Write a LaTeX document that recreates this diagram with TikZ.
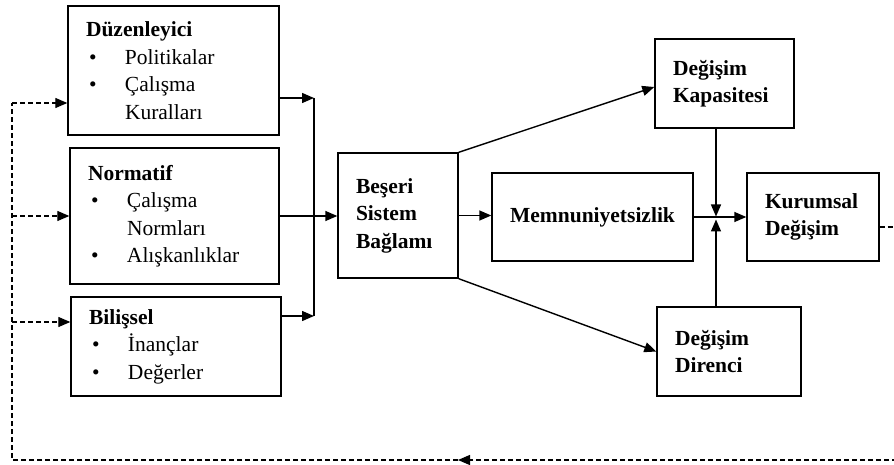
\documentclass[tikz,border=0pt]{standalone}
\usepackage{fontspec}
\setmainfont{Liberation Serif}
\usetikzlibrary{arrows.meta}
% bullet item and continuation indent inside the left-hand boxes
\newcommand{\blt}{\makebox[39pt][l]{\hspace{3pt}\textbullet}}
\newcommand{\cont}{\hspace*{39pt}}
\begin{document}
\begin{tikzpicture}[x=1pt,y=-1pt,
  box/.style={draw, line width=1.4pt, fill=white, inner xsep=18pt, inner ysep=0pt,
              align=left, font=\fontsize{21.5}{27.5}\selectfont},
  link/.style={line width=1.4pt, -{Triangle[length=12pt,width=10pt]}},
  plain/.style={line width=1.4pt},
  feedback/.style={line width=1.3pt, dash pattern=on 5pt off 3pt},
  fbarrow/.style={feedback, -{Triangle[length=12pt,width=10pt]}}]

\useasboundingbox (0,0) rectangle (894,465);
\fill[white] (0,0) rectangle (894,465);
\clip (0,0) rectangle (894,465);

% institutional pillars
\node[box, text width=175pt, minimum height=129pt] (duz) at (173.5,70.5)
  {\textbf{Düzenleyici}\\ \blt Politikalar\\ \blt Çalışma\\ \cont Kuralları};
\node[box, text width=173pt, minimum height=136pt] (norm) at (174.5,216)
  {\textbf{Normatif}\\ \blt Çalışma\\ \cont Normları\\ \blt Alışkanlıklar};
\node[box, text width=174pt, minimum height=99pt] (bil) at (176,346.5)
  {\textbf{Bilişsel}\\ \blt İnançlar\\ \blt Değerler};

% central and right-hand blocks
\node[box, text width=84pt, minimum height=125pt] (bes) at (398,215.5)
  {\textbf{Beşeri}\\ \textbf{Sistem}\\ \textbf{Bağlamı}};
\node[box, align=center, inner xsep=0pt, text width=201pt, minimum height=88pt] (mem) at (592.5,217)
  {\textbf{Memnuniyetsizlik}};
\node[box, text width=103pt, minimum height=89pt] (kap) at (724.5,83.5)
  {\textbf{Değişim}\\ \textbf{Kapasitesi}};
\node[box, text width=96pt, minimum height=88pt] (kur) at (813,217)
  {\textbf{Kurumsal}\\ \textbf{Değişim}};
\node[box, text width=108pt, minimum height=89pt] (dir) at (729,351.5)
  {\textbf{Değişim}\\ \textbf{Direnci}};

% collecting bus from the pillars
\coordinate (busT) at (314,98);
\coordinate (busB) at (314,316);
\draw[link] (duz.east |- busT) -- (busT);
\draw[link] (bil.east |- busB) -- (busB);
\draw[plain] (busT) -- (busB);
\draw[link] (norm.east) -- (norm.east -| bes.west);

% main flow
\draw[link] (bes.east) -- (bes.east -| mem.west);
\draw[link] (bes.north east) -- ([yshift=-3.5pt]kap.west);
\draw[link] (bes.south east) -- (dir.west);
\draw[link] (mem.east) -- (kur.west);

% capacity and resistance meeting the main line
\coordinate (jt) at (716,216.5);
\coordinate (jb) at (716,219.5);
\draw[link] (kap.south -| jt) -- (jt);
\draw[link] (dir.north -| jb) -- (jb);

% feedback loop
\coordinate (fbR) at (905,227);
\coordinate (fbRB) at (905,460);
\coordinate (fbMid) at (458,460);
\coordinate (fbL) at (12,460);
\coordinate (fbT) at (12,103);
\coordinate (fbN) at (12,216);
\coordinate (fbB) at (12,322);
\draw[feedback] (kur.east |- fbR) -- (fbR) -- (fbRB);
\draw[fbarrow] (fbRB) -- (fbMid);
\draw[feedback] (fbMid) -- (fbL) -- (fbT);
\draw[fbarrow] (fbT) -- (fbT -| duz.west);
\draw[fbarrow] (fbN) -- (fbN -| norm.west);
\draw[fbarrow] (fbB) -- (fbB -| bil.west);
\end{tikzpicture}
\end{document}
